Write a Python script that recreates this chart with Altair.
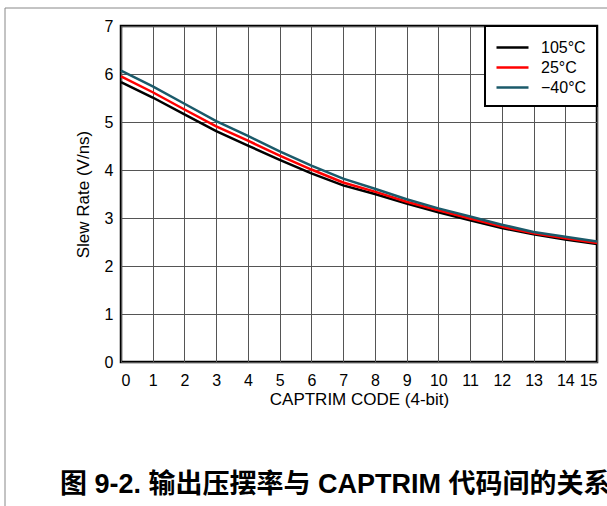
import altair as alt
import pandas as pd

# CAPTRIM code (x) and slew rate per temperature (V/ns)
codes = list(range(16))
temps = ["105°C", "25°C", "−40°C"]
colors = ["#000000", "#ff0000", "#1b5a6a"]
slew_105 = [5.83, 5.51, 5.16, 4.81, 4.51, 4.21, 3.93, 3.68, 3.50, 3.30, 3.12, 2.95, 2.79, 2.66, 2.55, 2.46]
slew_25 = [5.95, 5.62, 5.26, 4.91, 4.61, 4.30, 4.01, 3.74, 3.55, 3.34, 3.16, 2.99, 2.82, 2.68, 2.58, 2.48]
slew_m40 = [6.07, 5.74, 5.38, 5.02, 4.71, 4.39, 4.09, 3.82, 3.61, 3.39, 3.20, 3.03, 2.86, 2.71, 2.61, 2.51]
y_ticks = list(range(8))
x_title = "CAPTRIM CODE (4-bit)"
y_title = "Slew Rate (V/ns)"
caption = "图 9-2. 输出压摆率与 CAPTRIM 代码间的关系"

FONT = "Liberation Sans, Arial, Noto Sans CJK SC, sans-serif"

rows = []
for t, series in zip(temps, [slew_105, slew_25, slew_m40]):
    for c, v in zip(codes, series):
        rows.append({"code": c, "temp": t, "slew": v})
df = pd.DataFrame(rows)

W, H = 476, 336
PAD_L, PAD_T = 121, 26

lines = alt.Chart(df).mark_line(strokeWidth=2.5).encode(
    x=alt.X(
        "code:Q",
        scale=alt.Scale(domain=[0, 15], nice=False, zero=False),
        axis=alt.Axis(values=codes, title=x_title, titleX=W / 2, titleY=37,
                      titleBaseline="middle", labelPadding=10),
    ),
    y=alt.Y(
        "slew:Q",
        scale=alt.Scale(domain=[0, 7], nice=False),
        axis=alt.Axis(values=y_ticks, title=y_title, titleX=-38, titleY=H / 2,
                      titleBaseline="middle", titleAngle=-90, labelPadding=8),
    ),
    color=alt.Color(
        "temp:N",
        scale=alt.Scale(domain=temps, range=colors),
        legend=alt.Legend(
            title=None, orient="top-right", offset=0,
            # a horizontal stroke, longer than the nominal symbol box
            symbolType="M-1,0H2.2", symbolSize=400, symbolStrokeWidth=2.5,
            labelFontSize=16, padding=10, rowPadding=0, labelOffset=23,
        ),
    ),
)

# outer figure frame (top and left edges)
frame_top = alt.Chart(pd.DataFrame({"k": [0]})).mark_rule(color="#888888", strokeWidth=1).encode(
    x=alt.value(-116), x2=alt.value(W + 20), y=alt.value(-18)
)
frame_left = alt.Chart(pd.DataFrame({"k": [0]})).mark_rule(color="#888888", strokeWidth=1).encode(
    x=alt.value(-116), y=alt.value(-18), y2=alt.value(H + 150)
)

cap = alt.Chart(pd.DataFrame({"caption": [caption]})).mark_text(
    align="left", baseline="middle", font=FONT, fontSize=27, fontWeight="bold", color="black"
).encode(text="caption:N", x=alt.value(-61), y=alt.value(485 - PAD_T))

chart = alt.layer(frame_top, frame_left, lines, cap).properties(
    width=W, height=H,
    autosize=alt.AutoSizeParams(type="none"),
    padding={"left": PAD_L, "top": PAD_T, "right": 607 - PAD_L - W, "bottom": 506 - PAD_T - H},
    background="white",
).configure_view(
    stroke="black", strokeWidth=2.5
).configure_axis(
    domain=False, ticks=False, grid=True, gridColor="#555555", gridWidth=1,
    labelFont=FONT, labelFontSize=16, labelColor="black",
    titleFont=FONT, titleFontSize=17, titleFontWeight="normal", titleColor="black",
).configure_legend(
    fillColor="white", strokeColor="black", strokeWidth=2,
    labelFont=FONT, labelColor="black",
)

chart.save("out.html", embed_options={"renderer": "svg", "actions": False})
